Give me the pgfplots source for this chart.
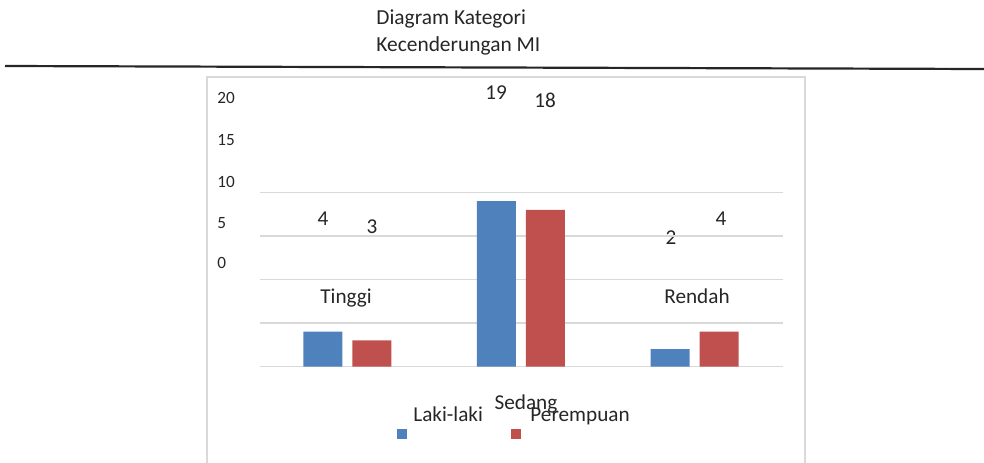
\documentclass[border=0pt]{standalone}
\usepackage{fontspec}
\setmainfont{Carlito}
\usepackage{pgfplots}
\pgfplotsset{compat=1.18}
\definecolor{barblue}{HTML}{4F81BD}
\definecolor{barred}{HTML}{C0504D}
\definecolor{gridgray}{HTML}{D9D9D9}
\begin{document}
\begin{tikzpicture}
\useasboundingbox (0,0) rectangle (492pt,231pt);
\begin{scope}[x=0.5pt,y=-0.5pt,shift={(0pt,231pt)}]
  \draw[gridgray, line width=0.6pt] (207,77) rectangle (805,480);
  \draw[black!85, line width=1.1pt] (5,66) -- (984,69);
  \begin{scope}[every node/.style={inner sep=0pt, font=\fontsize{10.7pt}{12pt}\selectfont, text=black!85}]
    \node[anchor=mid west] at (376,19.5) {Diagram Kategori};
    \node[anchor=mid west] at (376,46.5) {Kecenderungan MI};
  \end{scope}
  \begin{scope}[every node/.style={inner sep=0pt, font=\fontsize{8.6pt}{10pt}\selectfont, text=black!85}]
    \node[anchor=mid west] at (217,99) {20};
    \node[anchor=mid west] at (217,141) {15};
    \node[anchor=mid west] at (217,183) {10};
    \node[anchor=mid west] at (217,224) {5};
    \node[anchor=mid west] at (217,264) {0};
  \end{scope}
  \begin{scope}[every node/.style={inner sep=0pt, font=\fontsize{10.6pt}{12pt}\selectfont, text=black!85}]
    \node[anchor=mid] at (323,220.5) {4};
    \node[anchor=mid] at (372,228.5) {3};
    \node[anchor=mid] at (496,94.5) {19};
    \node[anchor=mid] at (545,102.5) {18};
    \node[anchor=mid] at (671,239.5) {2};
    \node[anchor=mid] at (721,220.5) {4};
    \node[anchor=mid] at (346,298.5) {Tinggi};
    \node[anchor=mid] at (526,404.5) {Sedang};
    \node[anchor=mid] at (697,298.5) {Rendah};
    \node[anchor=mid west] at (413,416.5) {Laki-laki};
    \node[anchor=mid west] at (530,416.5) {Perempuan};
  \end{scope}
  \fill[barblue] (397,429) rectangle (407,439);
  \fill[barred] (511,429) rectangle (521,439);
\end{scope}
\begin{axis}[
  at={(130pt,47.75pt)}, anchor=south west,
  scale only axis, width=261.5pt, height=87pt,
  xmin=-0.504, xmax=2.510, ymin=0, ymax=20,
  enlargelimits=false,
  axis line style={draw=none},
  ytick={0,5,10,15,20}, yticklabels={},
  xtick=\empty,
  major tick length=0pt,
  ymajorgrids, grid style={draw=gridgray, line width=0.65pt},
  ybar=5pt, bar width=19.5pt,
  clip=false,
]
\addplot[fill=barblue, draw=none] coordinates {(0,4) (1,19) (2,2)};
\addplot[fill=barred, draw=none] coordinates {(0,3) (1,18) (2,4)};
\end{axis}
\end{tikzpicture}
\end{document}
